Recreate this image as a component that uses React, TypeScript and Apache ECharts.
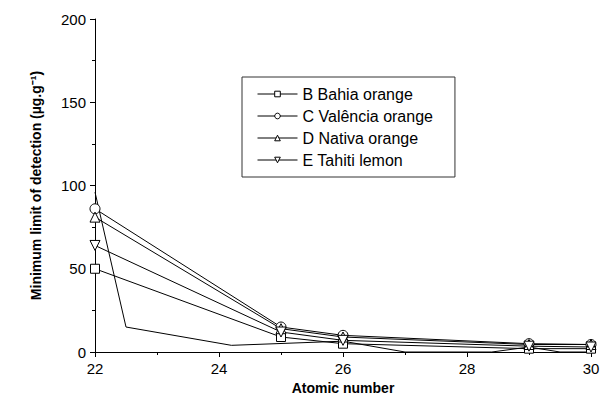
import React, { useEffect, useRef } from "react";
import * as echarts from "echarts";

const atomicNumbers = [22, 25, 26, 29, 30];
const bahiaOrange = [50, 9, 5, 2, 2];
const valenciaOrange = [86, 15, 10, 5, 4.5];
const nativaOrange = [81, 14, 9, 4.5, 4.5];
const tahitiLemon = [64, 12, 7, 3.5, 3];
// unlabeled trace (no markers) drawn in the original plot
const extraX = [22, 22.5, 24.2, 26, 27, 28.4, 29, 29.5, 30];
const extraY = [96, 15, 4, 6.5, 0, 0, 3, 0, 0];

const seriesNames = ["B Bahia orange", "C Valência orange", "D Nativa orange", "E Tahiti lemon"];
const yTicks = [0, 50, 100, 150, 200];
const xTicks = [22, 24, 26, 28, 30];

const FONT = "Liberation Sans";

export default function App() {
  const ref = useRef<HTMLDivElement>(null);
  useEffect(() => {
    if (!ref.current) return;
    const chart = echarts.init(ref.current, undefined, { renderer: "svg" });
    const pair = (ys: number[]) => atomicNumbers.map((x, i) => [x, ys[i]]);
    const mk = (name: string, ys: number[], symbol: string, rotate = 0) => ({
      name,
      type: "line",
      data: pair(ys),
      symbol,
      symbolSize: symbol === "rect" ? 9 : 10,
      symbolRotate: rotate,
      showAllSymbol: true,
      color: "#000",
      lineStyle: { color: "#000", width: 1 },
      itemStyle: { color: "#fff", borderColor: "#000", borderWidth: 1 },
      z: 3,
    });
    const legendText = { fontFamily: FONT, fontSize: 16, color: "#000" };
    chart.setOption({
      animation: false,
      backgroundColor: "#fff",
      textStyle: { fontFamily: FONT },
      grid: { left: 95, right: 19, top: 19, bottom: 51, containLabel: false },
      legend: {
        orient: "vertical",
        left: 242,
        top: 77,
        data: seriesNames.map((n) => ({ name: n, textStyle: legendText })),
        itemWidth: 40,
        itemHeight: 7,
        itemGap: 6,
        padding: [9, 22, 9, 15],
        borderColor: "#333",
        borderWidth: 1,
        itemStyle: { color: "#fff", borderColor: "#000", borderWidth: 1 },
        lineStyle: { color: "#000", width: 1 },
        textStyle: legendText,
      },
      xAxis: {
        type: "value",
        min: 22,
        max: 30,
        interval: 2,
        name: "Atomic number",
        nameLocation: "middle",
        nameGap: 28,
        nameTextStyle: { fontFamily: FONT, fontSize: 14, fontWeight: "bold", color: "#000" },
        axisLine: { show: true, onZero: false, lineStyle: { color: "#000", width: 1 } },
        axisTick: { show: true, length: 5, inside: false, lineStyle: { color: "#000" } },
        minorTick: { show: true, splitNumber: 2, length: 3, lineStyle: { color: "#000" } },
        axisLabel: {
          fontFamily: FONT,
          fontSize: 15,
          color: "#000",
          margin: 9,
          formatter: (v: number) => (xTicks.includes(v) ? String(v) : ""),
        },
        splitLine: { show: false },
      },
      yAxis: {
        type: "value",
        min: 0,
        max: 200,
        interval: 50,
        name: "Minimum limit of detection (µg.g⁻¹)",
        nameLocation: "middle",
        nameGap: 52,
        nameTextStyle: { fontFamily: FONT, fontSize: 14, fontWeight: "bold", color: "#000" },
        axisLine: { show: true, lineStyle: { color: "#000", width: 1 } },
        axisTick: { show: true, length: 5, inside: false, lineStyle: { color: "#000" } },
        minorTick: { show: true, splitNumber: 2, length: 3, lineStyle: { color: "#000" } },
        axisLabel: {
          fontFamily: FONT,
          fontSize: 15,
          color: "#000",
          margin: 9,
          formatter: (v: number) => (yTicks.includes(v) ? String(v) : ""),
        },
        splitLine: { show: false },
      },
      series: [
        {
          name: "extra",
          type: "line",
          data: extraX.map((x, i) => [x, extraY[i]]),
          symbol: "none",
          lineStyle: { color: "#000", width: 1 },
          z: 2,
        },
        mk(seriesNames[0], bahiaOrange, "rect"),
        mk(seriesNames[1], valenciaOrange, "circle"),
        mk(seriesNames[2], nativaOrange, "triangle"),
        mk(seriesNames[3], tahitiLemon, "triangle", 180),
      ],
    });
    return () => chart.dispose();
  }, []);
  return (
    <div
      ref={ref}
      style={{ position: "fixed", left: 0, top: 0, width: 610, height: 403, background: "#fff" }}
    />
  );
}
